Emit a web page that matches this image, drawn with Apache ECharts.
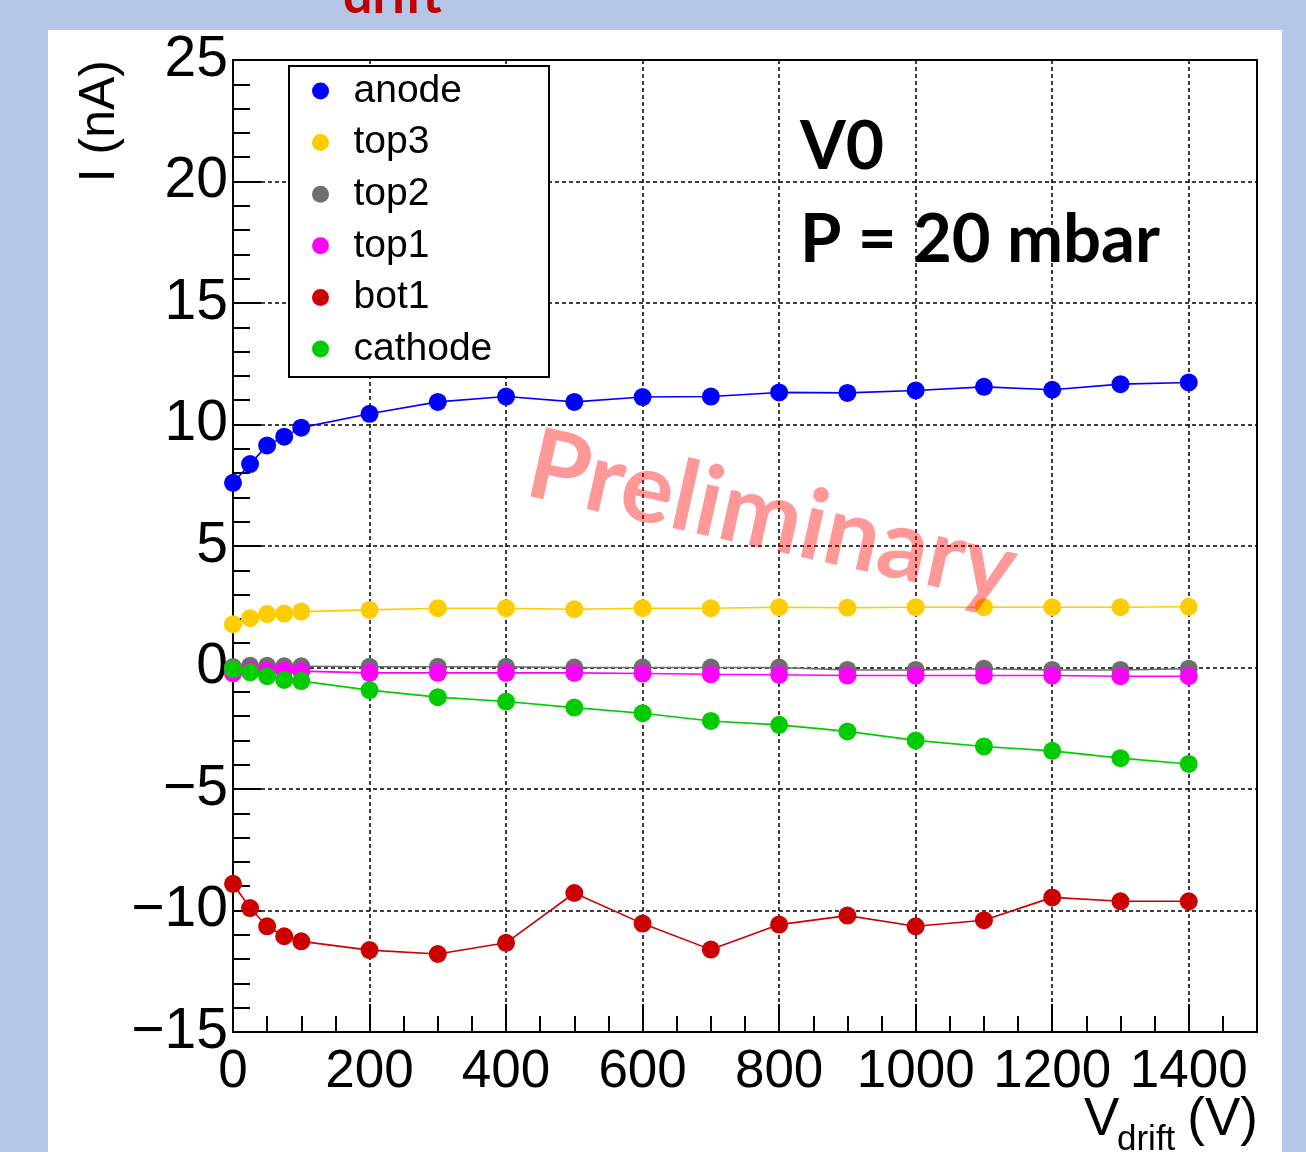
<!DOCTYPE html>
<html>
<head>
<meta charset="utf-8">
<script src="https://cdn.jsdelivr.net/npm/echarts@6/dist/echarts.min.js"></script>
<style>
  html, body { margin: 0; padding: 0; background: #b4c7e7; }
  #chart { width: 1306px; height: 1152px; }
</style>
</head>
<body>
<div id="chart"></div>
<script>
// Drift voltage scan (V)
const voltages = [0, 25, 50, 75, 100, 200, 300, 400, 500, 600, 700, 800, 900, 1000, 1100, 1200, 1300, 1400];

// Currents per electrode (nA)
const anode   = [7.6, 8.37, 9.14, 9.5, 9.87, 10.44, 10.93, 11.15, 10.93, 11.13, 11.15, 11.32, 11.3, 11.4, 11.55, 11.43, 11.66, 11.73];
const top3    = [1.78, 2.03, 2.2, 2.22, 2.3, 2.37, 2.44, 2.44, 2.4, 2.44, 2.44, 2.48, 2.46, 2.48, 2.48, 2.48, 2.48, 2.5];
const top2    = [0.02, 0.07, 0.07, 0.05, 0.05, 0.03, 0.03, 0.03, 0.0, 0.0, 0.0, 0.0, -0.1, -0.1, -0.05, -0.1, -0.1, -0.05];
const top1    = [-0.24, -0.1, -0.12, -0.12, -0.15, -0.22, -0.22, -0.22, -0.22, -0.25, -0.28, -0.3, -0.33, -0.33, -0.33, -0.33, -0.36, -0.36];
const bot1    = [-8.9, -9.9, -10.65, -11.06, -11.27, -11.63, -11.79, -11.33, -9.28, -10.54, -11.61, -10.58, -10.21, -10.65, -10.4, -9.46, -9.62, -9.62];
const cathode = [-0.07, -0.2, -0.36, -0.51, -0.56, -0.93, -1.22, -1.4, -1.65, -1.88, -2.2, -2.36, -2.63, -3.0, -3.25, -3.43, -3.73, -3.97];

const seriesNames  = ['anode', 'top3', 'top2', 'top1', 'bot1', 'cathode'];
const seriesValues = [anode, top3, top2, top1, bot1, cathode];
const seriesColors = ['#0000ff', '#ffcc00', '#6e6e6e', '#ff00ff', '#cc0000', '#00cc00'];

const AXIS_FONT = '"Liberation Sans", Arial, sans-serif';
const TEXT_FONT = 'Lato, "Open Sans", sans-serif';

const chart = echarts.init(document.getElementById('chart'), null, { renderer: 'canvas' });

const series = seriesNames.map((name, i) => ({
  name: name,
  type: 'line',
  data: voltages.map((v, k) => [v, seriesValues[i][k]]),
  symbol: 'circle',
  symbolSize: 18,
  showAllSymbol: true,
  lineStyle: { color: seriesColors[i], width: 1.6 },
  itemStyle: { color: seriesColors[i] },
  z: 3
}));

const minus = s => String(s).replace('-', '\u2212');

chart.setOption({
  animation: false,
  backgroundColor: '#b4c7e7',
  grid: {
    left: 233, top: 60, right: 49, bottom: 120,
    show: true, borderColor: '#000', borderWidth: 2, backgroundColor: 'transparent'
  },
  xAxis: {
    type: 'value', min: 0, max: 1500, interval: 200,
    axisLine: { show: true, onZero: false, lineStyle: { color: '#000', width: 2 } },
    axisTick: { show: true, inside: true, length: 28, lineStyle: { color: '#000', width: 2 } },
    minorTick: { show: true, splitNumber: 4, length: 16, lineStyle: { color: '#000', width: 2 } },
    splitLine: { show: true, lineStyle: { color: '#000', width: 1.5, type: [4, 3] } },
    axisLabel: {
      color: '#000', fontFamily: AXIS_FONT, fontSize: 53, margin: 14,
      showMaxLabel: false,
      formatter: v => String(v)
    }
  },
  yAxis: {
    type: 'value', min: -15, max: 25, interval: 5,
    axisLine: { show: true, onZero: false, lineStyle: { color: '#000', width: 2 } },
    axisTick: { show: true, inside: true, length: 28, lineStyle: { color: '#000', width: 2 } },
    minorTick: { show: true, splitNumber: 5, length: 17, lineStyle: { color: '#000', width: 2 } },
    splitLine: { show: true, lineStyle: { color: '#000', width: 1.5, type: [4, 3] } },
    axisLabel: {
      color: '#000', fontFamily: AXIS_FONT, fontSize: 57, margin: 5,
      formatter: v => minus(v)
    }
  },
  legend: {
    data: seriesNames,
    orient: 'vertical',
    left: 312, top: 71,
    padding: 0,
    itemWidth: 56, itemHeight: 17,
    itemGap: 11.6,
    icon: 'circle',
    z: 10,
    textStyle: { color: '#000', fontFamily: AXIS_FONT, fontSize: 39, lineHeight: 40 }
  },
  graphic: [
    // white panel behind the plot
    { type: 'rect', z: -10, silent: true,
      shape: { x: 48, y: 30, width: 1234, height: 1130 },
      style: { fill: '#ffffff' } },
    // legend frame
    { type: 'rect', z: 6, silent: true,
      shape: { x: 289, y: 66, width: 260, height: 311 },
      style: { fill: '#ffffff', stroke: '#000', lineWidth: 2 } },
    // slide title remnant
    { type: 'text', z: 20, x: 343, y: -4,
      style: { text: 'drift', fill: '#c00000', font: 'bold 52px ' + TEXT_FONT, textAlign: 'left', textVerticalAlign: 'middle' } },
    // y axis title
    { type: 'text', z: 20, x: 100, y: 60, rotation: Math.PI / 2,
      style: { text: 'I (nA)', fill: '#000', font: '50px ' + AXIS_FONT, textAlign: 'right', textVerticalAlign: 'middle' } },
    // x axis title
    { type: 'text', z: 20, x: 1084, y: 1120,
      style: { text: 'V', fill: '#000', font: '53px ' + AXIS_FONT, textAlign: 'left', textVerticalAlign: 'middle' } },
    { type: 'text', z: 20, x: 1117, y: 1140,
      style: { text: 'drift', fill: '#000', font: '35px ' + AXIS_FONT, textAlign: 'left', textVerticalAlign: 'middle' } },
    { type: 'text', z: 20, x: 1258, y: 1120,
      style: { text: '(V)', fill: '#000', font: '53px ' + AXIS_FONT, textAlign: 'right', textVerticalAlign: 'middle' } },
    // run annotation
    { type: 'text', z: 20, x: 800, y: 148,
      style: { text: 'V0', fill: '#000', font: 'bold 66px ' + TEXT_FONT, textAlign: 'left', textVerticalAlign: 'middle' } },
    { type: 'text', z: 20, x: 800, y: 240,
      style: { text: 'P = 20 mbar', fill: '#000', font: 'bold 67px ' + TEXT_FONT, textAlign: 'left', textVerticalAlign: 'middle' } },
    // watermark
    { type: 'text', z: 30, x: 772, y: 518, rotation: -0.22,
      style: { text: 'Preliminary', fill: 'rgba(255,0,0,0.4)', font: 'bold 98px ' + TEXT_FONT, textAlign: 'center', textVerticalAlign: 'middle' } }
  ],
  series: series
});
</script>
</body>
</html>
